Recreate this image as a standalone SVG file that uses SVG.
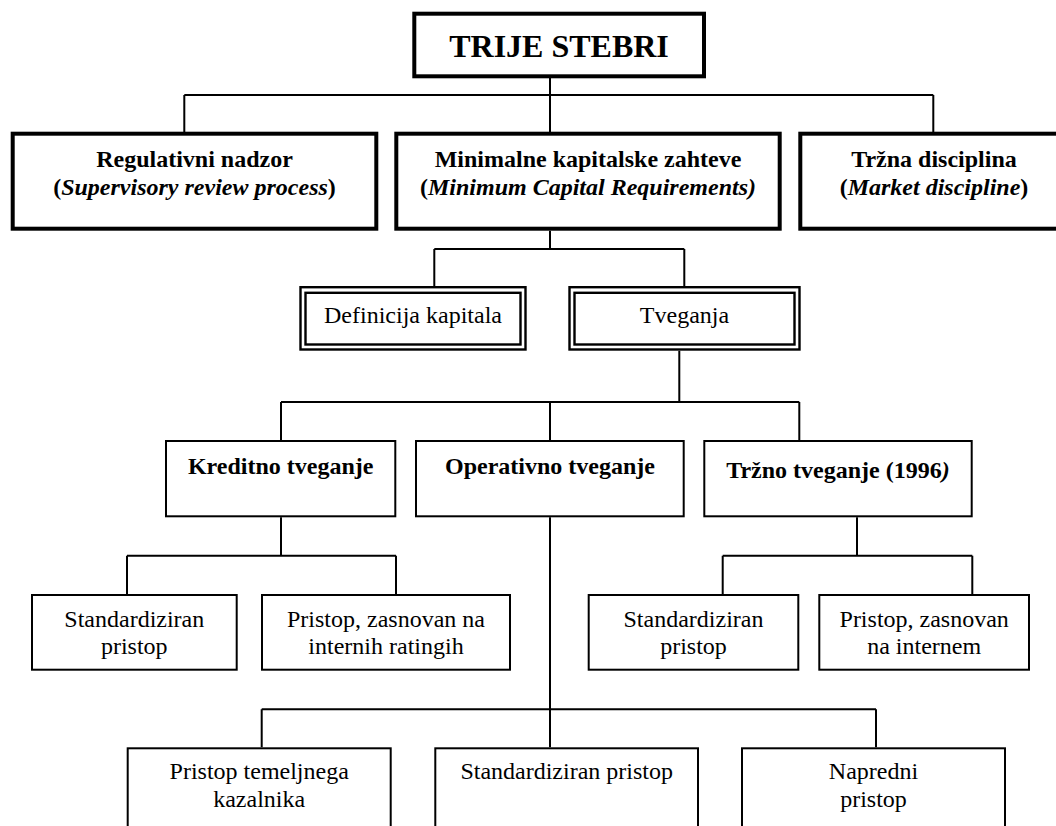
<svg xmlns="http://www.w3.org/2000/svg" width="1056" height="826" viewBox="0 0 1056 826">
<style>
text{font-family:"Liberation Serif","Times New Roman",serif;font-size:24px;fill:#000;text-anchor:middle}
.b{font-weight:bold}
.i{font-style:italic}
.thick{fill:#fff;stroke:#000;stroke-width:4}
.thin{fill:#fff;stroke:#000;stroke-width:2}
.dbl{fill:none;stroke:#000;stroke-width:2.4}
#connectors path{fill:none;stroke:#000;stroke-width:2}
</style>
<rect width="1056" height="826" fill="#fff"/>
<g id="connectors">
<path d="M550 78V132M184.3 95H933.3M184.3 95V132M933.3 95V132"/>
<path d="M550 230.7V249M434.3 249H684.3M434.3 249V286M684.3 249V286"/>
<path d="M679.3 350.7V402M281 402H799.3M281 402V440M550 402V440M799.3 402V440"/>
<path d="M281 517.3V555.7M127 555.7H396M127 555.7V594M396 555.7V594"/>
<path d="M857 517.3V555.7M722.7 555.7H972.3M722.7 555.7V594M972.3 555.7V594"/>
<path d="M550 517.3V747.3M261.7 709.3H876M261.7 709.3V747.3M876 709.3V747.3"/>
</g>
<g id="trije">
<rect class="thick" x="414.3" y="13.7" width="289.7" height="62.6"/>
<text class="b" x="559" y="57" style="font-size:32px">TRIJE STEBRI</text>
</g>
<g id="regulativni">
<rect class="thick" x="12.7" y="133.7" width="363.6" height="95"/>
<text class="b" x="194.5" y="167">Regulativni nadzor</text>
<text class="b" x="194.5" y="195">(<tspan class="i">Supervisory review process</tspan>)</text>
</g>
<g id="minimalne">
<rect class="thick" x="396.3" y="133.7" width="383.4" height="95"/>
<text class="b" x="588" y="167">Minimalne kapitalske zahteve</text>
<text class="b" x="588" y="195">(<tspan class="i">Minimum Capital Requirements)</tspan></text>
</g>
<g id="trzna">
<rect class="thick" x="800.3" y="133.7" width="270" height="95"/>
<text class="b" x="934" y="167">Tržna disciplina</text>
<text class="b" x="934" y="195">(<tspan class="i">Market discipline</tspan>)</text>
</g>
<g id="definicija">
<rect class="dbl" x="300.5" y="287.2" width="225" height="62.3"/>
<rect class="dbl" x="305.5" y="292.8" width="215" height="51.7"/>
<text x="413" y="323.3">Definicija kapitala</text>
</g>
<g id="tveganja">
<rect class="dbl" x="569.5" y="287.2" width="230" height="62.3"/>
<rect class="dbl" x="574.5" y="292.8" width="220" height="51.7"/>
<text x="684.5" y="323.3">Tveganja</text>
</g>
<g id="kreditno">
<rect class="thin" x="166" y="441" width="229.3" height="75.3"/>
<text class="b" x="280.7" y="474">Kreditno tveganje</text>
</g>
<g id="operativno">
<rect class="thin" x="416" y="441" width="267.7" height="75.3"/>
<text class="b" x="550" y="474">Operativno tveganje</text>
</g>
<g id="trzno">
<rect class="thin" x="704.3" y="441" width="267.4" height="75.3"/>
<text class="b" x="838" y="478">Tržno tveganje (1996<tspan class="i">)</tspan></text>
</g>
<g id="kred-std">
<rect class="thin" x="32" y="595" width="204.7" height="74.7"/>
<text x="134.3" y="627.3">Standardiziran</text>
<text x="134.3" y="654">pristop</text>
</g>
<g id="kred-irb">
<rect class="thin" x="262" y="595" width="248" height="74.7"/>
<text x="386" y="627.3">Pristop, zasnovan na</text>
<text x="386" y="654">internih ratingih</text>
</g>
<g id="trz-std">
<rect class="thin" x="588.7" y="595" width="209.6" height="74.7"/>
<text x="693.5" y="627.3">Standardiziran</text>
<text x="693.5" y="654">pristop</text>
</g>
<g id="trz-int">
<rect class="thin" x="819.3" y="595" width="209.7" height="74.7"/>
<text x="924.2" y="627.3">Pristop, zasnovan</text>
<text x="924.2" y="654">na internem</text>
</g>
<g id="op-bia">
<rect class="thin" x="127.7" y="748.3" width="263" height="100"/>
<text x="259.2" y="779.3">Pristop temeljnega</text>
<text x="259.2" y="807.3">kazalnika</text>
</g>
<g id="op-std">
<rect class="thin" x="435.3" y="748.3" width="262.7" height="100"/>
<text x="566.7" y="779.3">Standardiziran pristop</text>
</g>
<g id="op-ama">
<rect class="thin" x="742" y="748.3" width="263" height="100"/>
<text x="873.5" y="779.3">Napredni</text>
<text x="873.5" y="807.3">pristop</text>
</g>
</svg>
